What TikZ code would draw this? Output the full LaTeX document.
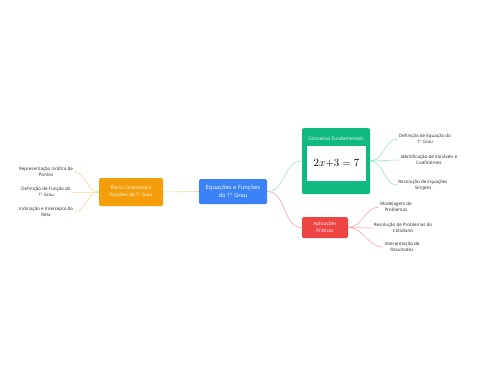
\documentclass[tikz,border=0pt]{standalone}
\usepackage{fontspec}
\setmainfont{Open Sans}
\begin{document}
\begin{tikzpicture}[x=1pt,y=-1pt,
  box/.style={rounded corners=1.5pt, text=white, align=center, inner sep=0pt},
  leaf/.style={align=center, text=black!85, font=\fontsize{4.5}{6.3}\selectfont, inner sep=1pt},
  conn/.style={line width=0.6pt}
]
\definecolor{cblue}{HTML}{3B82F6}
\definecolor{corange}{HTML}{F59E0B}
\definecolor{cgreen}{HTML}{10B981}
\definecolor{cred}{HTML}{EF4444}
\definecolor{lorange}{HTML}{FBD89A}
\definecolor{lgreen}{HTML}{9FE3C8}
\definecolor{lred}{HTML}{F8A8A8}
\useasboundingbox (0,0) rectangle (480,384);
\fill[white] (0,0) rectangle (480,384);

% main nodes
\node[box, fill=cblue, minimum width=68pt, minimum height=25pt, font=\fontsize{5.8}{8}\selectfont] (c) at (233,191.5) {Equações e Funções\\do 1º Grau};
\node[box, fill=corange, minimum width=64pt, minimum height=28pt, font=\fontsize{4.7}{7}\selectfont] (o) at (131,192) {Plano Cartesiano e\\Funções do 1º Grau};
\node[box, fill=cgreen, minimum width=68pt, minimum height=66pt] (g) at (336,161) {};
\node[text=white, font=\fontsize{4.8}{6}\selectfont, inner sep=0pt] (gt) at (336,139) {Conceitos Fundamentais};
\node[fill=white, minimum width=59pt, minimum height=35pt, inner sep=0pt] (eq) at (336.5,163.5) {\fontsize{10.5}{12}\selectfont\fontfamily{lmr}$2x{+}3=7$};
\node[box, fill=cred, minimum width=46pt, minimum height=21pt, font=\fontsize{4.7}{7}\selectfont] (r) at (325,227.5) {Aplicações\\Práticas};

% leaves left
\node[leaf] (l1) at (46,172) {Representação Gráfica de\\Pontos};
\node[leaf] (l2) at (46,192) {Definição de Função do\\1º Grau};
\node[leaf] (l3) at (46,212) {Inclinação e Intercepto da\\Reta};
% leaves green
\node[leaf] (g1) at (425,139) {Definição de Equação do\\1º Grau};
\node[leaf] (g2) at (429,160) {Identificação de Variáveis e\\Coeficientes};
\node[leaf] (g3) at (423,185) {Resolução de Equações\\Simples};
% leaves red
\node[leaf] (r1) at (396,207) {Modelagem de\\Problemas};
\node[leaf] (r2) at (403,228) {Resolução de Problemas do\\Cotidiano};
\node[leaf] (r3) at (402,247) {Interpretação de\\Resultados};

% connectors
\draw[conn, lorange] (c.west) -- (o.east);
\draw[conn, lgreen] (c.east) to[out=0,in=180] (g.west);
\draw[conn, lred] (c.east) to[out=0,in=180] (r.west);

\draw[conn, lorange] (o.west) to[out=180,in=0] (l1.east);
\draw[conn, lorange] (o.west) to[out=180,in=0] (l2.east);
\draw[conn, lorange] (o.west) to[out=180,in=0] (l3.east);

\draw[conn, lgreen] (g.east) to[out=0,in=180] (g1.west);
\draw[conn, lgreen] (g.east) to[out=0,in=180] (g2.west);
\draw[conn, lgreen] (g.east) to[out=0,in=180] (g3.west);

\draw[conn, lred] (r.east) to[out=0,in=180] (r1.west);
\draw[conn, lred] (r.east) to[out=0,in=180] (r2.west);
\draw[conn, lred] (r.east) to[out=0,in=180] (r3.west);
\end{tikzpicture}
\end{document}
